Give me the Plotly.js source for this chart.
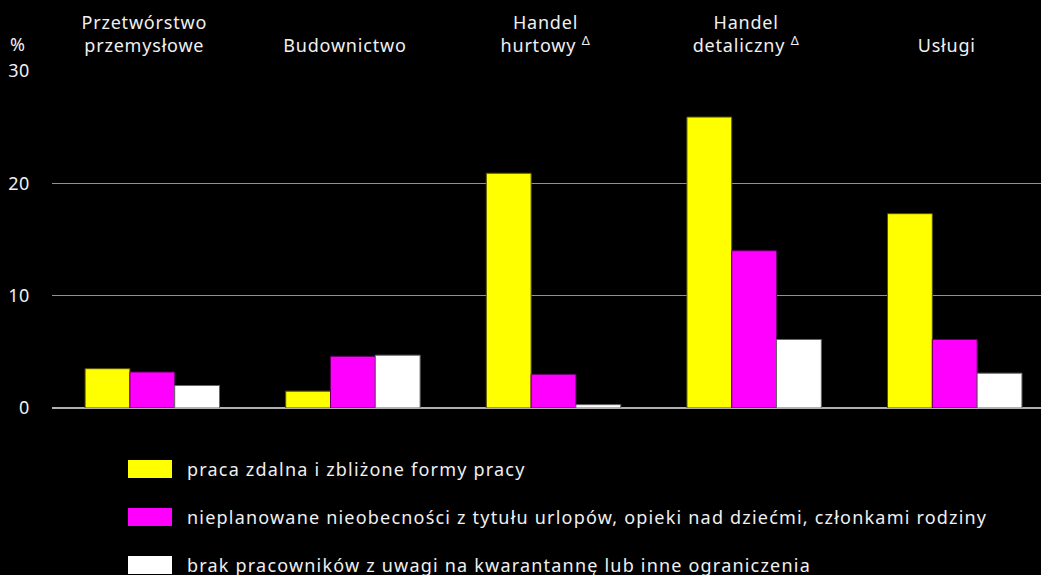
<!DOCTYPE html>
<html><head><meta charset="utf-8">
<script src="https://cdn.plot.ly/plotly-3.0.1.min.js"></script>
<style>html,body{margin:0;padding:0;background:#000;}#chart{width:1041px;height:575px;}
.xtick text{letter-spacing:0.8px;}
.ytick text{letter-spacing:0.6px;}
.annotation-text{letter-spacing:1.2px;}</style>
</head><body><div id="chart"></div>
<script>
const categories = ["Przetwórstwo<br>przemysłowe", "Budownictwo", "Handel<br>hurtowy <sup>Δ</sup>", "Handel<br>detaliczny <sup>Δ</sup>", "Usługi"];
const seriesNames = [
  "praca zdalna i zbliżone formy pracy",
  "nieplanowane nieobecności z tytułu urlopów, opieki nad dziećmi, członkami rodziny",
  "brak pracowników z uwagi na kwarantannę lub inne ograniczenia"
];
const remoteWork = [3.5, 1.5, 20.9, 25.9, 17.3];
const absences = [3.2, 4.6, 3.0, 14.0, 6.1];
const quarantine = [2.0, 4.7, 0.3, 6.1, 3.1];
const yTicks = [0, 10, 20, 30];
const colors = ["#ffff00", "#ff00ff", "#ffffff"];
const lineColors = ["#555500", "#660066", "#666666"];

const values = [remoteWork, absences, quarantine];
const traces = values.map((v, i) => ({
  type: "bar", x: categories, y: v, name: seriesNames[i],
  marker: {color: colors[i], line: {color: lineColors[i], width: 1}},
  showlegend: false, hoverinfo: "skip"
}));

const font = {family: "Noto Sans, sans-serif", color: "#f0f0f0", size: 18};
const legFont = {family: "Noto Sans, sans-serif", color: "#f0f0f0", size: 18};
const shapes = [], annotations = [];
const plotTop = 71, plotBottom = 408, plotH = plotBottom - plotTop;
const legY = [469, 517, 565];
seriesNames.forEach((n, i) => {
  const yc = (plotBottom - legY[i]) / plotH;
  shapes.push({type: "rect", xref: "paper", yref: "paper", xsizemode: "pixel", ysizemode: "pixel",
    xanchor: 0, yanchor: yc, x0: 128 - 52, x1: 172 - 52, y0: -9, y1: 9,
    fillcolor: colors[i], line: {width: 0}});
  annotations.push({xref: "paper", yref: "paper", x: 0, xshift: 187 - 52 - 2, y: yc, xanchor: "left", yanchor: "middle",
    align: "left", text: n, showarrow: false, font: legFont});
});
annotations.push({xref: "paper", yref: "paper", x: 0, xshift: -52 + 18, y: (plotBottom - 44) / plotH, xanchor: "center", yanchor: "middle",
  text: "%", showarrow: false, font: font});

const layout = {
  width: 1041, height: 575,
  paper_bgcolor: "#000", plot_bgcolor: "#000",
  margin: {l: 52, r: 0, t: 71, b: 167},
  font: font,
  barmode: "group", bargap: 0.33, bargroupgap: 0,
  xaxis: {side: "top", range: [-0.5, 4.43], showgrid: false, zeroline: false, showline: false,
    ticks: "", tickfont: font, ticklabelstandoff: 14, ticklabelshift: -8, fixedrange: true},
  yaxis: {range: [0, 30], tickvals: yTicks, ticktext: yTicks.map(String), showgrid: true, gridcolor: "#909090", gridwidth: 1,
    zeroline: true, zerolinecolor: "#b0b0b0", zerolinewidth: 1.5, showline: false, ticks: "",
    tickfont: font, ticklabelstandoff: 21, fixedrange: true},
  shapes: shapes, annotations: annotations
};
Plotly.newPlot("chart", traces, layout, {displayModeBar: false, staticPlot: true});
</script></body></html>
